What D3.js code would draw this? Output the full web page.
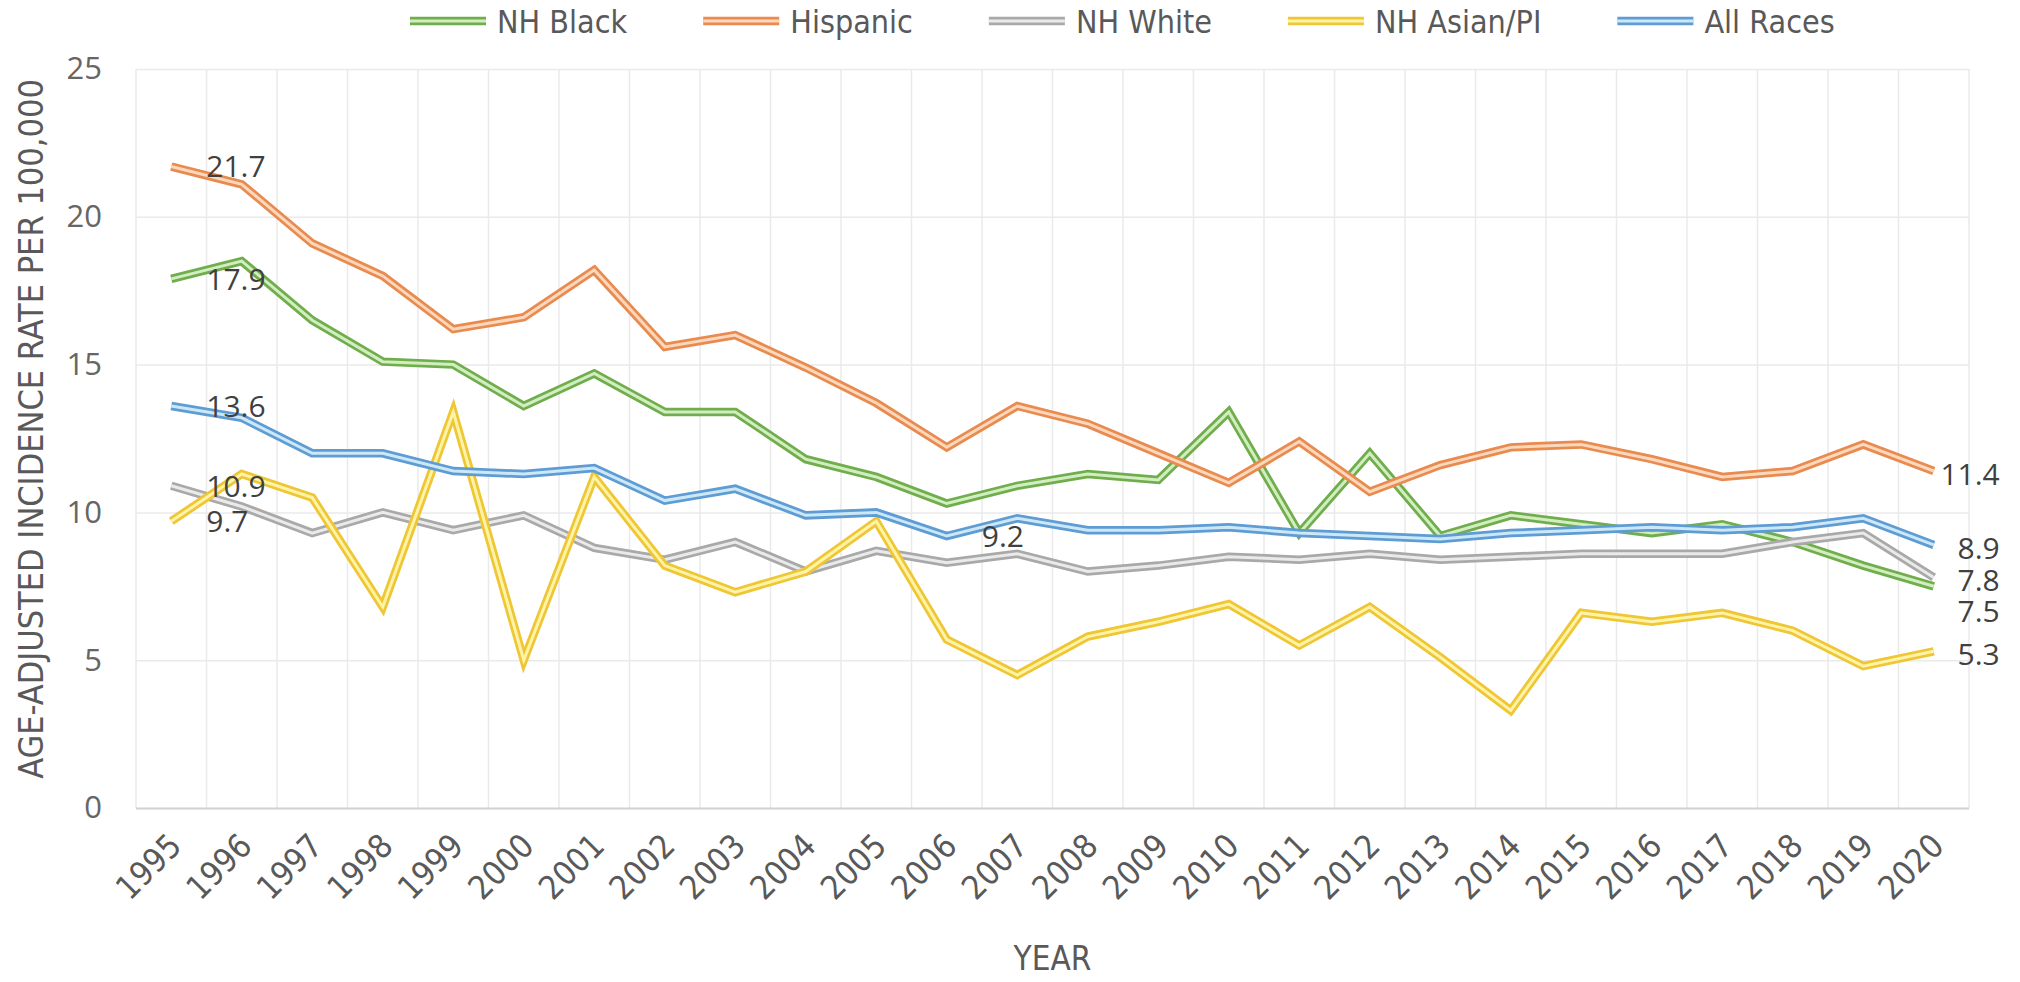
<!DOCTYPE html>
<html><head><meta charset="utf-8">
<script src="https://cdn.jsdelivr.net/npm/d3@7"></script>
<style>body{margin:0;background:#fff}</style>
</head><body><svg id="c" width="2020" height="982"></svg>
<script>
// ---- data ----
const years = ["1995","1996","1997","1998","1999","2000","2001","2002","2003","2004","2005","2006","2007","2008","2009","2010","2011","2012","2013","2014","2015","2016","2017","2018","2019","2020"];
const seriesNames = ["NH Black","Hispanic","NH White","NH Asian/PI","All Races"];
const nhBlack  = [17.9,18.5,16.5,15.1,15.0,13.6,14.7,13.4,13.4,11.8,11.2,10.3,10.9,11.3,11.1,13.4,9.3,12.0,9.2,9.9,9.6,9.3,9.6,9.0,8.2,7.5];
const hispanic = [21.7,21.1,19.1,18.0,16.2,16.6,18.2,15.6,16.0,14.9,13.7,12.2,13.6,13.0,12.0,11.0,12.4,10.7,11.6,12.2,12.3,11.8,11.2,11.4,12.3,11.4];
const nhWhite  = [10.9,10.2,9.3,10.0,9.4,9.9,8.8,8.4,9.0,8.0,8.7,8.3,8.6,8.0,8.2,8.5,8.4,8.6,8.4,8.5,8.6,8.6,8.6,9.0,9.3,7.8];
const nhAsian  = [9.7,11.3,10.5,6.8,13.4,5.0,11.2,8.2,7.3,8.0,9.7,5.7,4.5,5.8,6.3,6.9,5.5,6.8,5.1,3.3,6.6,6.3,6.6,6.0,4.8,5.3];
const allRaces = [13.6,13.2,12.0,12.0,11.4,11.3,11.5,10.4,10.8,9.9,10.0,9.2,9.8,9.4,9.4,9.5,9.3,9.2,9.1,9.3,9.4,9.5,9.4,9.5,9.8,8.9];
const yTicks = [0,5,10,15,20,25];
// labelled points: [series index, year index, side]
const labelled = [[1,0,"L"],[0,0,"L"],[4,0,"L"],[2,0,"L"],[3,0,"L"],[4,11,"L"],
                  [1,25,"R"],[4,25,"R"],[2,25,"R"],[0,25,"R"],[3,25,"R"]];

// ---- styles ----
const outerColors = ["#70AD4C","#E98A4E","#A9A9A9","#EFC634","#5E9CD3"];
const innerColors = ["#D2EEC0","#FBD7BC","#EAEAEA","#FFF3A8","#CBE8F8"];
const allValues = [nhBlack,hispanic,nhWhite,nhAsian,allRaces];

const svg = d3.select("#c");
const L = 136, R = 1969, T = 69, B = 808;
const x = d3.scaleBand().domain(years).range([L,R]).padding(0);
const y = d3.scaleLinear().domain([0,25]).range([B,T]);
const cx = d => x(d) + x.bandwidth()/2;

const narrow = "'Liberation Sans Narrow','DejaVu Sans Condensed',sans-serif";
const num = "'Open Sans',sans-serif";

// vertical gridlines at category boundaries
const bounds = years.map(d => x(d)).concat([x.range()[1]]);
svg.append("g").selectAll("line").data(bounds).join("line")
  .attr("x1",d=>d).attr("x2",d=>d).attr("y1",T).attr("y2",B)
  .attr("stroke","#EAEAEA").attr("stroke-width",1.5);

// horizontal gridlines + y ticks
const yAxis = svg.append("g").attr("transform",`translate(${L},0)`)
  .call(d3.axisLeft(y).tickValues(yTicks).tickSize(-(R-L)).tickPadding(34).tickFormat(d3.format("d")));
yAxis.select(".domain").remove();
yAxis.selectAll(".tick line").attr("stroke",d=>d===0?"#D0D0D0":"#EAEAEA").attr("stroke-width",d=>d===0?2:1.5);
yAxis.selectAll(".tick text").attr("fill","#666").style("font-family",num).style("font-size","31px");

// x axis labels
const xAxis = svg.append("g").attr("transform",`translate(0,${B})`)
  .call(d3.axisBottom(x).tickSize(0).tickPadding(0));
xAxis.select(".domain").remove();
xAxis.selectAll(".tick text")
  .attr("fill","#595959").style("font-family",narrow).style("font-size","33px")
  .attr("text-anchor","end").attr("dy",0).attr("y",0)
  .attr("transform","translate(12,40) rotate(-45)");

// lines (double compound style)
const line = d3.line().x((d,i)=>cx(years[i])).y(d=>y(d));
const lg = svg.append("g");
allValues.forEach((vals,k)=>{
  lg.append("path").attr("d",line(vals)).attr("fill","none")
    .attr("stroke",outerColors[k]).attr("stroke-width",8.5).attr("stroke-linejoin","miter");
  lg.append("path").attr("d",line(vals)).attr("fill","none")
    .attr("stroke",innerColors[k]).attr("stroke-width",3).attr("stroke-linejoin","miter");
});

// data labels
const fmt = d3.format(".1f");
const lab = labelled.map(([s,i,side])=>({s,i,side,v:allValues[s][i],py:y(allValues[s][i])}));
const right = lab.filter(d=>d.side==="R").sort((a,b)=>a.py-b.py);
let prev = -1e9;
right.forEach(d=>{ d.ly = Math.max(d.py+3, prev+31); prev = d.ly; });
lab.filter(d=>d.side==="L").forEach(d=>d.ly=d.py);
svg.append("g").selectAll("text").data(lab).join("text")
  .attr("x",d=>d.side==="L"? cx(years[d.i])+35 : cx(years[d.i])+66)
  .attr("y",d=>d.ly).attr("dy","0.36em")
  .attr("text-anchor",d=>d.side==="L"?"start":"end")
  .attr("fill","#404040").style("font-family",num).style("font-size","30px")
  .text(d=>fmt(d.v));

// axis titles
svg.append("text").attr("transform","translate(31,429) rotate(-90)")
  .attr("text-anchor","middle").attr("dy","0.36em")
  .attr("fill","#595959").style("font-family",narrow).style("font-size","34px")
  .text("AGE-ADJUSTED INCIDENCE RATE PER 100,000");
svg.append("text").attr("x",(L+R)/2).attr("y",970).attr("text-anchor","middle")
  .attr("fill","#595959").style("font-family",narrow).style("font-size","33px")
  .text("YEAR");

// legend
const leg = svg.append("g");
let lx = 410; const ly = 21;
seriesNames.forEach((n,k)=>{
  leg.append("line").attr("x1",lx).attr("x2",lx+76).attr("y1",ly).attr("y2",ly)
    .attr("stroke",outerColors[k]).attr("stroke-width",8.5);
  leg.append("line").attr("x1",lx).attr("x2",lx+76).attr("y1",ly).attr("y2",ly)
    .attr("stroke",innerColors[k]).attr("stroke-width",3);
  const t = leg.append("text").attr("x",lx+87).attr("y",ly).attr("dy","0.36em")
    .attr("fill","#595959").style("font-family",narrow).style("font-size","32px").text(n);
  lx += 87 + t.node().getComputedTextLength() + 76;
});
</script></body></html>
